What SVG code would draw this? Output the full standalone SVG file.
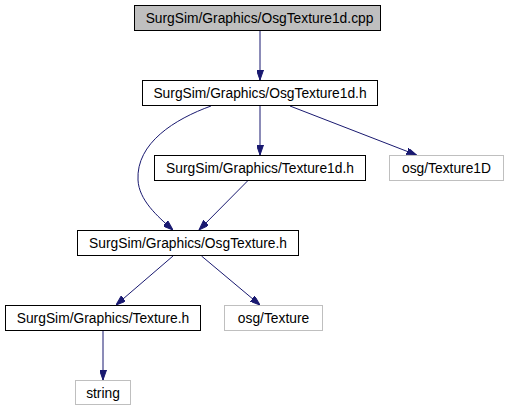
<svg xmlns="http://www.w3.org/2000/svg" width="509" height="411" viewBox="0 0 509 411">
<style>
.n rect{fill:#ffffff;stroke:#000000;stroke-width:1}
.n.g rect{stroke:#bfbfbf}
.n.root rect{fill:#bfbfbf}
.n text{font-family:"Liberation Sans",Arial,sans-serif;font-size:13.8px;fill:#000000;text-anchor:middle}
.e path{fill:none;stroke:#191970;stroke-width:1}
</style>
<defs>
<marker id="ah" viewBox="0 0 10 7" refX="10" refY="3.5" markerWidth="10" markerHeight="7" markerUnits="userSpaceOnUse" orient="auto">
<path d="M0,0 L10,3.5 L0,7 z" fill="#191970" stroke="#191970" stroke-width="1"/>
</marker>
</defs>
<rect width="509" height="411" fill="#ffffff"/>
<g id="edges" class="e">
<path d="M260,31 L260,80" marker-end="url(#ah)"/>
<path d="M211,106 C175,119 136,143 138,180 C139,200 157,216 173,230" marker-end="url(#ah)"/>
<path d="M260,106 L260,155" marker-end="url(#ah)"/>
<path d="M290,106 L416.5,155" marker-end="url(#ah)"/>
<path d="M247.5,181 L199,230" marker-end="url(#ah)"/>
<path d="M173,256 L116,305" marker-end="url(#ah)"/>
<path d="M201.5,256 L260,305" marker-end="url(#ah)"/>
<path d="M103,331 L103,380" marker-end="url(#ah)"/>
</g>
<g id="node1" class="n root"><rect x="134.5" y="5.5" width="246" height="25"/><text x="259.5" y="22.5">SurgSim/Graphics/OsgTexture1d.cpp</text></g>
<g id="node2" class="n"><rect x="142.5" y="80.5" width="235" height="25"/><text x="260" y="97.5">SurgSim/Graphics/OsgTexture1d.h</text></g>
<g id="node3" class="n"><rect x="154.5" y="155.5" width="211" height="25"/><text x="260" y="172.5">SurgSim/Graphics/Texture1d.h</text></g>
<g id="node4" class="n g"><rect x="389.5" y="155.5" width="114" height="25"/><text x="446.5" y="172.5">osg/Texture1D</text></g>
<g id="node5" class="n"><rect x="77.5" y="230.5" width="221" height="25"/><text x="188" y="247.5">SurgSim/Graphics/OsgTexture.h</text></g>
<g id="node6" class="n"><rect x="5.5" y="305.5" width="195" height="25"/><text x="103" y="322.5">SurgSim/Graphics/Texture.h</text></g>
<g id="node7" class="n g"><rect x="224.5" y="305.5" width="98" height="25"/><text x="273.5" y="322.5">osg/Texture</text></g>
<g id="node8" class="n g"><rect x="75.5" y="380.5" width="55" height="24"/><text x="103" y="397.5">string</text></g>
</svg>
